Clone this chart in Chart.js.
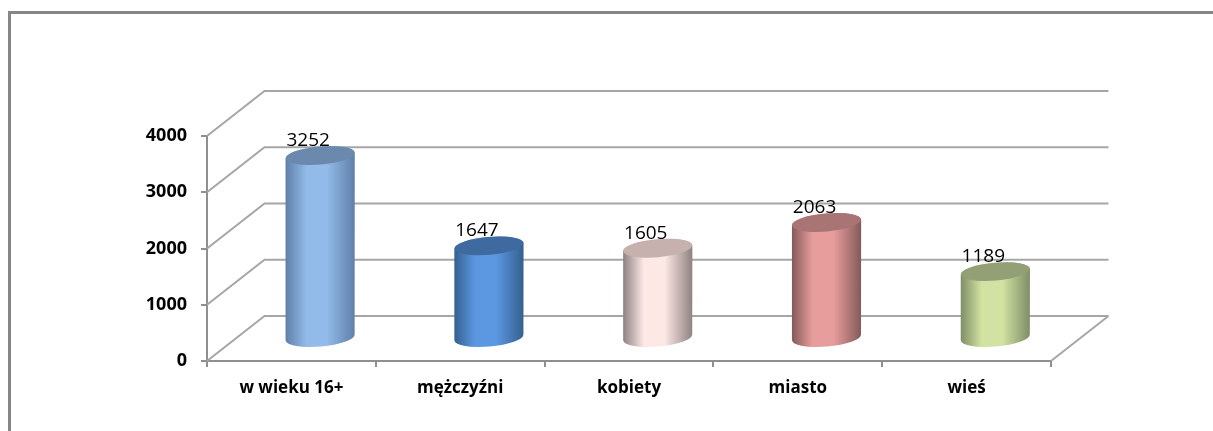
<!DOCTYPE html>
<html><head><meta charset="utf-8">
<script src="https://cdn.jsdelivr.net/npm/chart.js@4"></script>
<style>html,body{margin:0;padding:0;background:#fff;overflow:hidden}canvas{display:block}</style>
</head><body>
<canvas id="c" width="1213" height="431"></canvas>
<script>
const categories = ['w wieku 16+', 'mężczyźni', 'kobiety', 'miasto', 'wieś'];
const values = [3252, 1647, 1605, 2063, 1189];
const yTicks = [0, 1000, 2000, 3000, 4000];
const edgeColors = ['#5f7fa8', '#34608f', '#8f8282', '#845a5a', '#7f8e66'];
const midColors = ['#92bbea', '#5c98e2', '#fde8e6', '#e89d9d', '#d1e2a2'];
const capColors = ['#6b88ad', '#3f6a9f', '#c6b1af', '#a87474', '#939f75'];

const GRID = '#a6a6a6', AXIS = '#8f8f8f', FRAME = '#868686';
const DEPTH_X = 57.5, DEPTH_Y = 45;
const TILT = -5 * Math.PI / 180, RY = 9;

const cylinder = {
  id: 'cylinder3d',
  beforeDraw(chart) {
    const c = chart.ctx;
    c.save();
    c.fillStyle = '#fff'; c.fillRect(0, 0, chart.width, chart.height);
    c.fillStyle = FRAME;
    c.fillRect(8, 11, chart.width - 8, 3);
    c.fillRect(8, 11, 3, chart.height - 11);
    c.restore();
  },
  beforeDatasetsDraw(chart) {
    const c = chart.ctx, y = chart.scales.y, a = chart.chartArea;
    c.save();
    c.strokeStyle = GRID; c.lineWidth = 2;
    yTicks.forEach(v => {
      const p = y.getPixelForValue(v);
      c.beginPath();
      c.moveTo(a.left, p);
      c.lineTo(a.left + DEPTH_X, p - DEPTH_Y);
      c.lineTo(a.right + DEPTH_X, p - DEPTH_Y);
      c.stroke();
    });
    const b = y.getPixelForValue(0);
    c.beginPath();
    c.moveTo(a.right, b);
    c.lineTo(a.right + DEPTH_X, b - DEPTH_Y);
    c.stroke();
    c.restore();
    chart.getDatasetMeta(0).data.forEach((el, i) => {
      el.draw = function (ctx) {
        const cx = this.x + DEPTH_X / 2, top = this.y - DEPTH_Y / 2, base = this.base - DEPTH_Y / 2;
        const rx = this.width / 2;
        const g = ctx.createLinearGradient(cx - rx, 0, cx + rx, 0);
        g.addColorStop(0, edgeColors[i]);
        g.addColorStop(0.3, midColors[i]);
        g.addColorStop(0.6, midColors[i]);
        g.addColorStop(1, edgeColors[i]);
        const dy = rx * Math.sin(-TILT);
        ctx.save();
        ctx.beginPath();
        ctx.moveTo(cx - rx, top + dy);
        ctx.lineTo(cx - rx, base + dy);
        ctx.ellipse(cx, base, rx, RY, TILT, Math.PI, 0, true);
        ctx.lineTo(cx + rx, top - dy);
        ctx.ellipse(cx, top, rx, RY, TILT, 0, Math.PI, true);
        ctx.closePath();
        ctx.fillStyle = g;
        ctx.fill();
        ctx.beginPath();
        ctx.ellipse(cx, top, rx, RY, TILT, 0, Math.PI * 2);
        ctx.fillStyle = capColors[i];
        ctx.fill();
        ctx.restore();
      };
    });
  },
  afterDatasetsDraw(chart) {
    const c = chart.ctx;
    c.save();
    c.fillStyle = '#000';
    c.font = '19px "Open Sans"';
    c.textAlign = 'center'; c.textBaseline = 'middle';
    chart.getDatasetMeta(0).data.forEach((el, i) => {
      c.fillText(String(values[i]), el.x + DEPTH_X / 2 - 12, el.y - DEPTH_Y / 2 - 15);
    });
    c.restore();
  }
};

new Chart(document.getElementById('c'), {
  type: 'bar',
  data: { labels: categories, datasets: [{ data: values, backgroundColor: midColors, barPercentage: 0.41, categoryPercentage: 1 }] },
  plugins: [cylinder],
  options: {
    responsive: false, animation: false,
    layout: { padding: { left: 0, right: 162, top: 136, bottom: 0 } },
    plugins: { legend: { display: false }, tooltip: { enabled: false } },
    scales: {
      x: {
        afterFit(s) { s.height = 70; },
        grid: { drawOnChartArea: false, offset: true, tickLength: 6, color: AXIS, lineWidth: 2 },
        border: { color: AXIS, width: 2 },
        ticks: { color: '#000', padding: 11, font: { family: '"Open Sans"', size: 17, weight: 'bold' } }
      },
      y: {
        min: 0, max: 4000,
        afterFit(s) { s.width = 207; },
        afterBuildTicks(s) { s.ticks = yTicks.map(v => ({ value: v })); },
        grid: { drawOnChartArea: false, tickLength: 6, color: AXIS, lineWidth: 2 },
        border: { color: AXIS, width: 2 },
        ticks: { color: '#000', padding: 14, callback: v => String(v), font: { family: '"Open Sans"', size: 18, weight: 'bold' } }
      }
    }
  }
});
</script>
</body></html>
